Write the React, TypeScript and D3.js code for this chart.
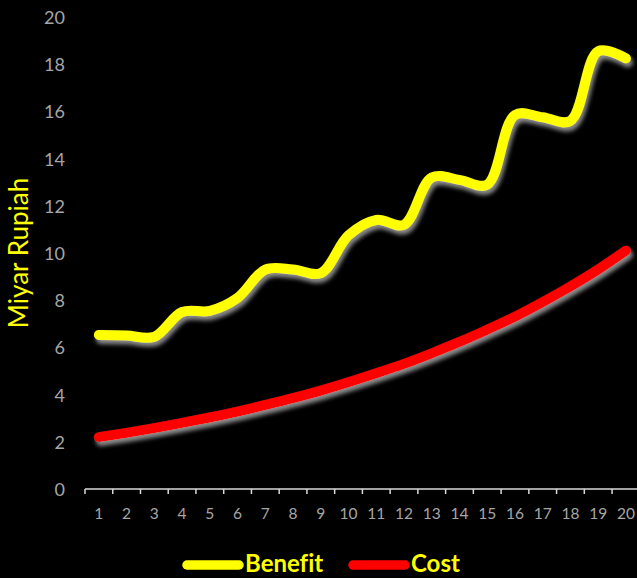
import React, { useEffect } from "react";
import * as d3 from "d3";

const years = d3.range(1, 21).map(String);
const benefit = [6.53, 6.5, 6.45, 7.5, 7.55, 8.1, 9.3, 9.3, 9.15, 10.75, 11.4, 11.2, 13.2, 13.1, 12.9, 15.85, 15.75, 15.6, 18.55, 18.25];
const cost = [2.2, 2.38, 2.58, 2.8, 3.03, 3.28, 3.56, 3.85, 4.17, 4.52, 4.9, 5.3, 5.75, 6.23, 6.75, 7.3, 7.92, 8.58, 9.3, 10.1];
const yTicks = [0, 2, 4, 6, 8, 10, 12, 14, 16, 18, 20];
const seriesNames = ["Benefit", "Cost"];
const seriesColors = ["#FFFF00", "#FF0000"];

const W = 637;
const H = 578;

export default function App() {
  useEffect(() => {
    document.body.style.margin = "0";
    document.body.style.background = "#000";
  }, []);

  const x = d3.scaleBand<string>().domain(years).range([85, 85 + 20 * 27.74]);
  const y = d3.scaleLinear().domain([0, 20]).range([489, 17]);
  const line = d3
    .line<number>()
    .x((_, i) => (x(years[i]) as number) + x.bandwidth() / 2)
    .y((d) => y(d))
    .curve(d3.curveCatmullRom.alpha(0.5));

  const data = [benefit, cost];
  const boundaries = d3.range(0, 21).map((i) => 85 + i * x.bandwidth());

  return (
    <svg width={W} height={H} style={{ display: "block", background: "#000" }}>
      <defs>
        <filter id="sh" x="-10%" y="-10%" width="120%" height="130%">
          <feDropShadow dx="2" dy="4" stdDeviation="2.2" floodColor="#9a9a9a" floodOpacity="0.9" />
        </filter>
      </defs>
      <rect width={W} height={H} fill="#000" />
      {yTicks.map((t) => (
        <text
          key={t}
          x={65}
          y={y(t)}
          textAnchor="end"
          dominantBaseline="central"
          fill="#a6a6a6"
          fontFamily="Lato, 'Open Sans', sans-serif"
          fontSize={18}
        >
          {t}
        </text>
      ))}
      <text
        transform={`translate(28,253) rotate(-90)`}
        textAnchor="middle"
        fill="#FFFF00"
        fontFamily="Lato, 'Open Sans', sans-serif"
        fontSize={26}
      >
        Miyar Rupiah
      </text>
      <line x1={85} x2={W} y1={y(0)} y2={y(0)} stroke="#d9d9d9" strokeWidth={1.5} />
      {boundaries.map((b, i) => (
        <line key={i} x1={b} x2={b} y1={y(0)} y2={y(0) + 5} stroke="#d9d9d9" strokeWidth={1.5} />
      ))}
      {years.map((c) => (
        <text
          key={c}
          x={(x(c) as number) + x.bandwidth() / 2}
          y={513}
          textAnchor="middle"
          dominantBaseline="central"
          fill="#a6a6a6"
          fontFamily="Lato, 'Open Sans', sans-serif"
          fontSize={15.5}
        >
          {c}
        </text>
      ))}
      {data.map((d, i) => (
        <path
          key={i}
          d={line(d) || ""}
          fill="none"
          stroke={seriesColors[i]}
          strokeWidth={10}
          strokeLinecap="round"
          strokeLinejoin="round"
          filter="url(#sh)"
        />
      ))}
      {seriesNames.map((n, i) => {
        const x0 = i === 0 ? 187 : 353;
        return (
          <g key={n}>
            <line x1={x0} x2={x0 + 52} y1={565} y2={565} stroke={seriesColors[i]} strokeWidth={9.5} strokeLinecap="round" />
            <text
              x={x0 + 58}
              y={572}
              fill="#FFFF00"
              fontFamily="Lato, 'Open Sans', sans-serif"
              fontWeight="bold"
              fontSize={24}
              style={{ fontVariantLigatures: "none" }}
            >
              {n}
            </text>
          </g>
        );
      })}
    </svg>
  );
}
